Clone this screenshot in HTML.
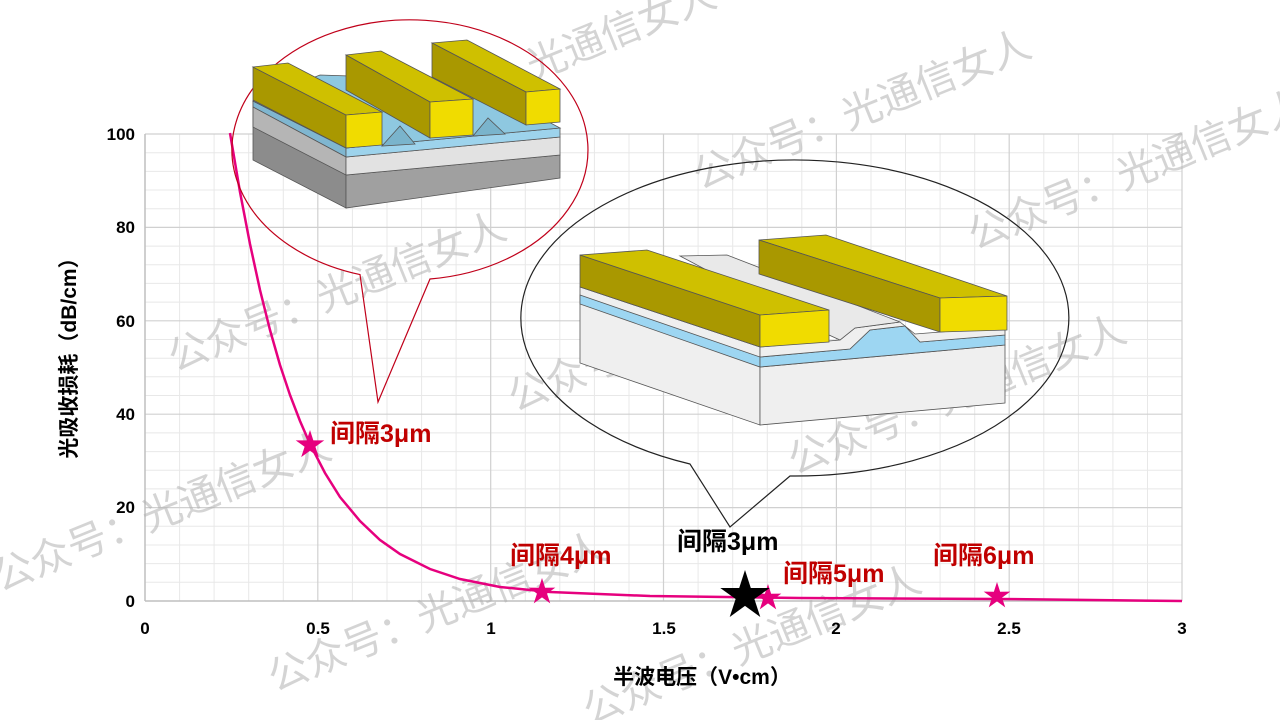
<!DOCTYPE html>
<html><head><meta charset="utf-8"><style>
html,body{margin:0;padding:0;background:#fff;}
svg{display:block;}
text{font-family:"Liberation Sans","Noto Sans CJK SC",sans-serif;}
</style></head><body>
<svg width="1280" height="720" viewBox="0 0 1280 720" xmlns="http://www.w3.org/2000/svg">
<defs>
<polygon id="star" points="0,-1 0.223,-0.307 0.951,-0.309 0.361,0.117 0.588,0.809 0,0.38 -0.588,0.809 -0.361,0.117 -0.951,-0.309 -0.223,-0.307"/>
</defs>
<rect width="1280" height="720" fill="#fff"/>
<g id="grid" stroke="#e8e8e8" stroke-width="1">
<line x1="179.6" y1="134" x2="179.6" y2="601"/><line x1="214.1" y1="134" x2="214.1" y2="601"/><line x1="248.7" y1="134" x2="248.7" y2="601"/><line x1="283.3" y1="134" x2="283.3" y2="601"/>
<line x1="352.4" y1="134" x2="352.4" y2="601"/><line x1="387" y1="134" x2="387" y2="601"/><line x1="421.6" y1="134" x2="421.6" y2="601"/><line x1="456.1" y1="134" x2="456.1" y2="601"/>
<line x1="525.3" y1="134" x2="525.3" y2="601"/><line x1="559.8" y1="134" x2="559.8" y2="601"/><line x1="594.4" y1="134" x2="594.4" y2="601"/><line x1="629" y1="134" x2="629" y2="601"/>
<line x1="698.1" y1="134" x2="698.1" y2="601"/><line x1="732.7" y1="134" x2="732.7" y2="601"/><line x1="767.3" y1="134" x2="767.3" y2="601"/><line x1="801.8" y1="134" x2="801.8" y2="601"/>
<line x1="871" y1="134" x2="871" y2="601"/><line x1="905.5" y1="134" x2="905.5" y2="601"/><line x1="940.1" y1="134" x2="940.1" y2="601"/><line x1="974.7" y1="134" x2="974.7" y2="601"/>
<line x1="1043.8" y1="134" x2="1043.8" y2="601"/><line x1="1078.4" y1="134" x2="1078.4" y2="601"/><line x1="1112.9" y1="134" x2="1112.9" y2="601"/><line x1="1147.5" y1="134" x2="1147.5" y2="601"/>
<line x1="145" y1="582.3" x2="1182" y2="582.3"/><line x1="145" y1="563.6" x2="1182" y2="563.6"/><line x1="145" y1="545" x2="1182" y2="545"/><line x1="145" y1="526.3" x2="1182" y2="526.3"/>
<line x1="145" y1="488.9" x2="1182" y2="488.9"/><line x1="145" y1="470.2" x2="1182" y2="470.2"/><line x1="145" y1="451.6" x2="1182" y2="451.6"/><line x1="145" y1="432.9" x2="1182" y2="432.9"/>
<line x1="145" y1="395.5" x2="1182" y2="395.5"/><line x1="145" y1="376.8" x2="1182" y2="376.8"/><line x1="145" y1="358.2" x2="1182" y2="358.2"/><line x1="145" y1="339.5" x2="1182" y2="339.5"/>
<line x1="145" y1="302.1" x2="1182" y2="302.1"/><line x1="145" y1="283.4" x2="1182" y2="283.4"/><line x1="145" y1="264.8" x2="1182" y2="264.8"/><line x1="145" y1="246.1" x2="1182" y2="246.1"/>
<line x1="145" y1="208.7" x2="1182" y2="208.7"/><line x1="145" y1="190" x2="1182" y2="190"/><line x1="145" y1="171.4" x2="1182" y2="171.4"/><line x1="145" y1="152.7" x2="1182" y2="152.7"/>
</g>
<g stroke="#d0d0d0" stroke-width="1.2">
<line x1="317.8" y1="134" x2="317.8" y2="601"/><line x1="490.7" y1="134" x2="490.7" y2="601"/><line x1="663.5" y1="134" x2="663.5" y2="601"/><line x1="836.4" y1="134" x2="836.4" y2="601"/><line x1="1009.2" y1="134" x2="1009.2" y2="601"/><line x1="1182" y1="134" x2="1182" y2="601"/>
<line x1="145" y1="134" x2="1182" y2="134"/><line x1="145" y1="227.4" x2="1182" y2="227.4"/><line x1="145" y1="320.8" x2="1182" y2="320.8"/><line x1="145" y1="414.2" x2="1182" y2="414.2"/><line x1="145" y1="507.6" x2="1182" y2="507.6"/>
</g>
<line x1="145" y1="134" x2="145" y2="601" stroke="#bfbfbf" stroke-width="1.5"/>
<line x1="145" y1="601" x2="1182" y2="601" stroke="#bfbfbf" stroke-width="1.5"/>

<g fill="#b0b0b0" fill-opacity="0.55" font-size="40">
<text transform="translate(385,140) rotate(-22)">公众号：光通信女人</text>
<text transform="translate(700,190) rotate(-22)">公众号：光通信女人</text>
<text transform="translate(175,372) rotate(-22)">公众号：光通信女人</text>
<text transform="translate(515,412) rotate(-22)">公众号：光通信女人</text>
<text transform="translate(795,475) rotate(-22)">公众号：光通信女人</text>
<text transform="translate(975,250) rotate(-22)">公众号：光通信女人</text>
<text transform="translate(0,592) rotate(-22)">公众号：光通信女人</text>
<text transform="translate(275,692) rotate(-22)">公众号：光通信女人</text>
<text transform="translate(590,725) rotate(-22)">公众号：光通信女人</text>
</g>

<g font-size="17" font-weight="bold" fill="#000">
<text x="135" y="140" text-anchor="end">100</text>
<text x="135" y="233" text-anchor="end">80</text>
<text x="135" y="327" text-anchor="end">60</text>
<text x="135" y="420" text-anchor="end">40</text>
<text x="135" y="513" text-anchor="end">20</text>
<text x="135" y="607" text-anchor="end">0</text>
<text x="145" y="634" text-anchor="middle">0</text>
<text x="318" y="634" text-anchor="middle">0.5</text>
<text x="491" y="634" text-anchor="middle">1</text>
<text x="664" y="634" text-anchor="middle">1.5</text>
<text x="836" y="634" text-anchor="middle">2</text>
<text x="1009" y="634" text-anchor="middle">2.5</text>
<text x="1182" y="634" text-anchor="middle">3</text>
</g>
<text x="702" y="684" text-anchor="middle" font-size="21" font-weight="bold">半波电压（V•cm）</text>
<text transform="translate(76,353) rotate(-90)" text-anchor="middle" font-size="21" font-weight="bold">光吸收损耗（dB/cm）</text>

<polyline fill="none" stroke="#e6007e" stroke-width="2.5" points="230,133 240,192 250,244 260,290 270,330 280,365 290,395 300,421 310,444 325,473 340,497 360,521 380,540 400,554 430,569 460,579 500,587 550,592 650,596 800,598 1000,599 1182,601"/>

<path d="M360,274.6 A178,130 0 1 1 430,279 L378,402 Z" fill="none" stroke="#c0001a" stroke-width="1.2"/>
<path d="M690,464 A274,158 0 1 1 790,476 L730,527 Z" fill="none" stroke="#222" stroke-width="1.2"/>

<g stroke="#555" stroke-width="0.8">
<polygon points="253,101 346,148 346,208 253,160" fill="#8c8c8c"/>
<polygon points="253,101 346,148 346,157 253,107" fill="#7fb6d0"/>
<polygon points="253,107 346,157 346,175 253,127" fill="#b5b5b5"/>
<polygon points="346,175 560,155 560,178 346,208" fill="#a0a0a0"/>
<polygon points="346,157 560,137 560,155 346,175" fill="#e2e2e2"/>
<polygon points="346,148 560,128 560,137 346,157" fill="#9dd3ec"/>
<polygon points="253,101 346,148 560,128 470,80 320,75" fill="#8ec8e0"/>
<polygon points="382,146 400,126 415,144" fill="#7ab4cc"/>
<polygon points="473,136 488,118 505,134" fill="#7ab4cc"/>
<polygon points="253,67 346,115 346,148 253,100" fill="#a99800"/>
<polygon points="253,67 288,63 382,112 346,115" fill="#cfc000"/>
<polygon points="346,115 382,112 382,145 346,148" fill="#f0dc00"/>
<polygon points="346,55 381,51 473,99 430,102" fill="#cfc000"/>
<polygon points="346,55 430,102 430,138 346,90" fill="#a99800"/>
<polygon points="430,102 473,99 473,135 430,138" fill="#f0dc00"/>
<polygon points="432,43 467,40 560,89 526,92" fill="#cfc000"/>
<polygon points="432,43 526,92 526,125 432,77" fill="#a99800"/>
<polygon points="526,92 560,89 560,122 526,125" fill="#f0dc00"/>
</g>

<g stroke="#555" stroke-width="0.8">
<polygon points="580,287 760,347 760,425 580,363" fill="#efefef"/>
<polygon points="580,295 760,357 760,367 580,304" fill="#9dd6f2"/>
<polygon points="760,367 1005,345 1005,403 760,425" fill="#efefef"/>
<polygon points="760,357 850,349 870,330 905,326 920,342 1005,335 1005,345 760,367" fill="#9dd6f2"/>
<polygon points="760,347 840,340 855,328 900,322 915,334 1005,327 1005,335 920,342 905,326 870,330 850,349 760,357" fill="#efefef"/>
<polygon points="680,256 727,255 900,322 855,328 840,340 829,335" fill="#e9e9e9"/>
<polygon points="580,255 760,315 760,347 580,287" fill="#a99800"/>
<polygon points="580,255 647,250 829,310 760,315" fill="#cfc000"/>
<polygon points="760,315 829,310 829,342 760,347" fill="#f0dc00"/>
<polygon points="759,240 826,235 1007,296 940,298" fill="#cfc000"/>
<polygon points="759,240 940,298 940,332 759,274" fill="#a99800"/>
<polygon points="940,298 1007,296 1007,330 940,332" fill="#f0dc00"/>
</g>

<g fill="#e6007e">
<use href="#star" transform="translate(310,445) scale(15)"/>
<use href="#star" transform="translate(542,592) scale(14)"/>
<use href="#star" transform="translate(768,598) scale(14)"/>
<use href="#star" transform="translate(997,596) scale(14)"/>
</g>
<use href="#star" fill="#000" transform="translate(745,596) scale(26)"/>

<g font-size="25" font-weight="bold" fill="#c00000">
<text x="330" y="442">间隔3μm</text>
<text x="510" y="564">间隔4μm</text>
<text x="783" y="582">间隔5μm</text>
<text x="933" y="564">间隔6μm</text>
</g>
<text x="677" y="550" font-size="25" font-weight="bold" fill="#000">间隔3μm</text>
</svg>
</body></html>
